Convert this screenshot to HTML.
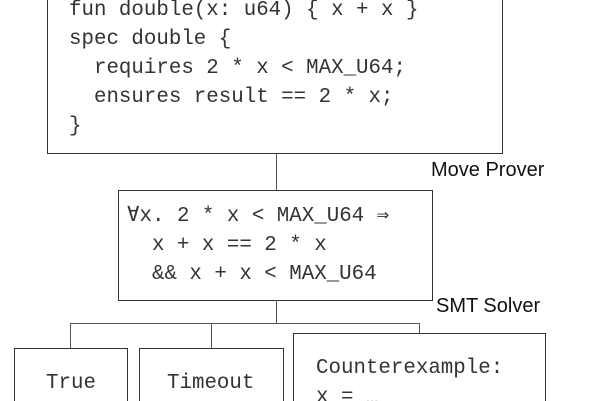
<!DOCTYPE html>
<html><head><meta charset="utf-8"><style>
html,body{margin:0;width:600px;height:401px;overflow:hidden}
body{background:#fff;position:relative}
.b{position:absolute;border:1.3px solid #333;box-sizing:border-box;background:#fff}
.o{border-bottom:none}
.m{position:absolute;font-family:"Liberation Mono",monospace;font-size:20.8px;color:#333;white-space:pre;line-height:29px}
.s{position:absolute;font-family:"Liberation Sans",sans-serif;font-size:20px;color:#111}
.l{position:absolute;background:#555}
</style></head><body>
<div class="b" style="left:47px;top:0;width:456px;height:154px;border-top:none"></div>
<div class="m" style="left:69px;top:-4px">fun double(x: u64) { x + x }
spec double {
  requires 2 * x &lt; MAX_U64;
  ensures result == 2 * x;
}</div>
<div class="l" style="left:276px;top:153px;width:1px;height:38px"></div>
<div class="s" style="left:431px;top:159px">Move Prover</div>
<div class="b" style="left:118px;top:190px;width:315px;height:111px"></div>
<div class="m" style="left:127px;top:202px">∀x. 2 * x &lt; MAX_U64 ⇒
  x + x == 2 * x
  &amp;&amp; x + x &lt; MAX_U64</div>
<div class="s" style="left:436px;top:295px">SMT Solver</div>
<div class="l" style="left:276px;top:300px;width:1px;height:23px"></div>
<div class="l" style="left:70px;top:323px;width:350px;height:1px"></div>
<div class="l" style="left:70px;top:323px;width:1px;height:26px"></div>
<div class="l" style="left:211px;top:323px;width:1px;height:26px"></div>
<div class="l" style="left:419px;top:323px;width:1px;height:11px"></div>
<div class="b o" style="left:14px;top:348px;width:114px;height:53px"></div>
<div class="m" style="left:46px;top:369px;height:32px;overflow:hidden">True</div>
<div class="b o" style="left:139px;top:348px;width:145px;height:53px"></div>
<div class="m" style="left:167px;top:369px;height:32px;overflow:hidden">Timeout</div>
<div class="b o" style="left:293px;top:333px;width:253px;height:68px"></div>
<div class="m" style="left:316px;top:354px;height:47px;overflow:hidden">Counterexample:
x = <span style="color:#ddd">…</span></div>
</body></html>
